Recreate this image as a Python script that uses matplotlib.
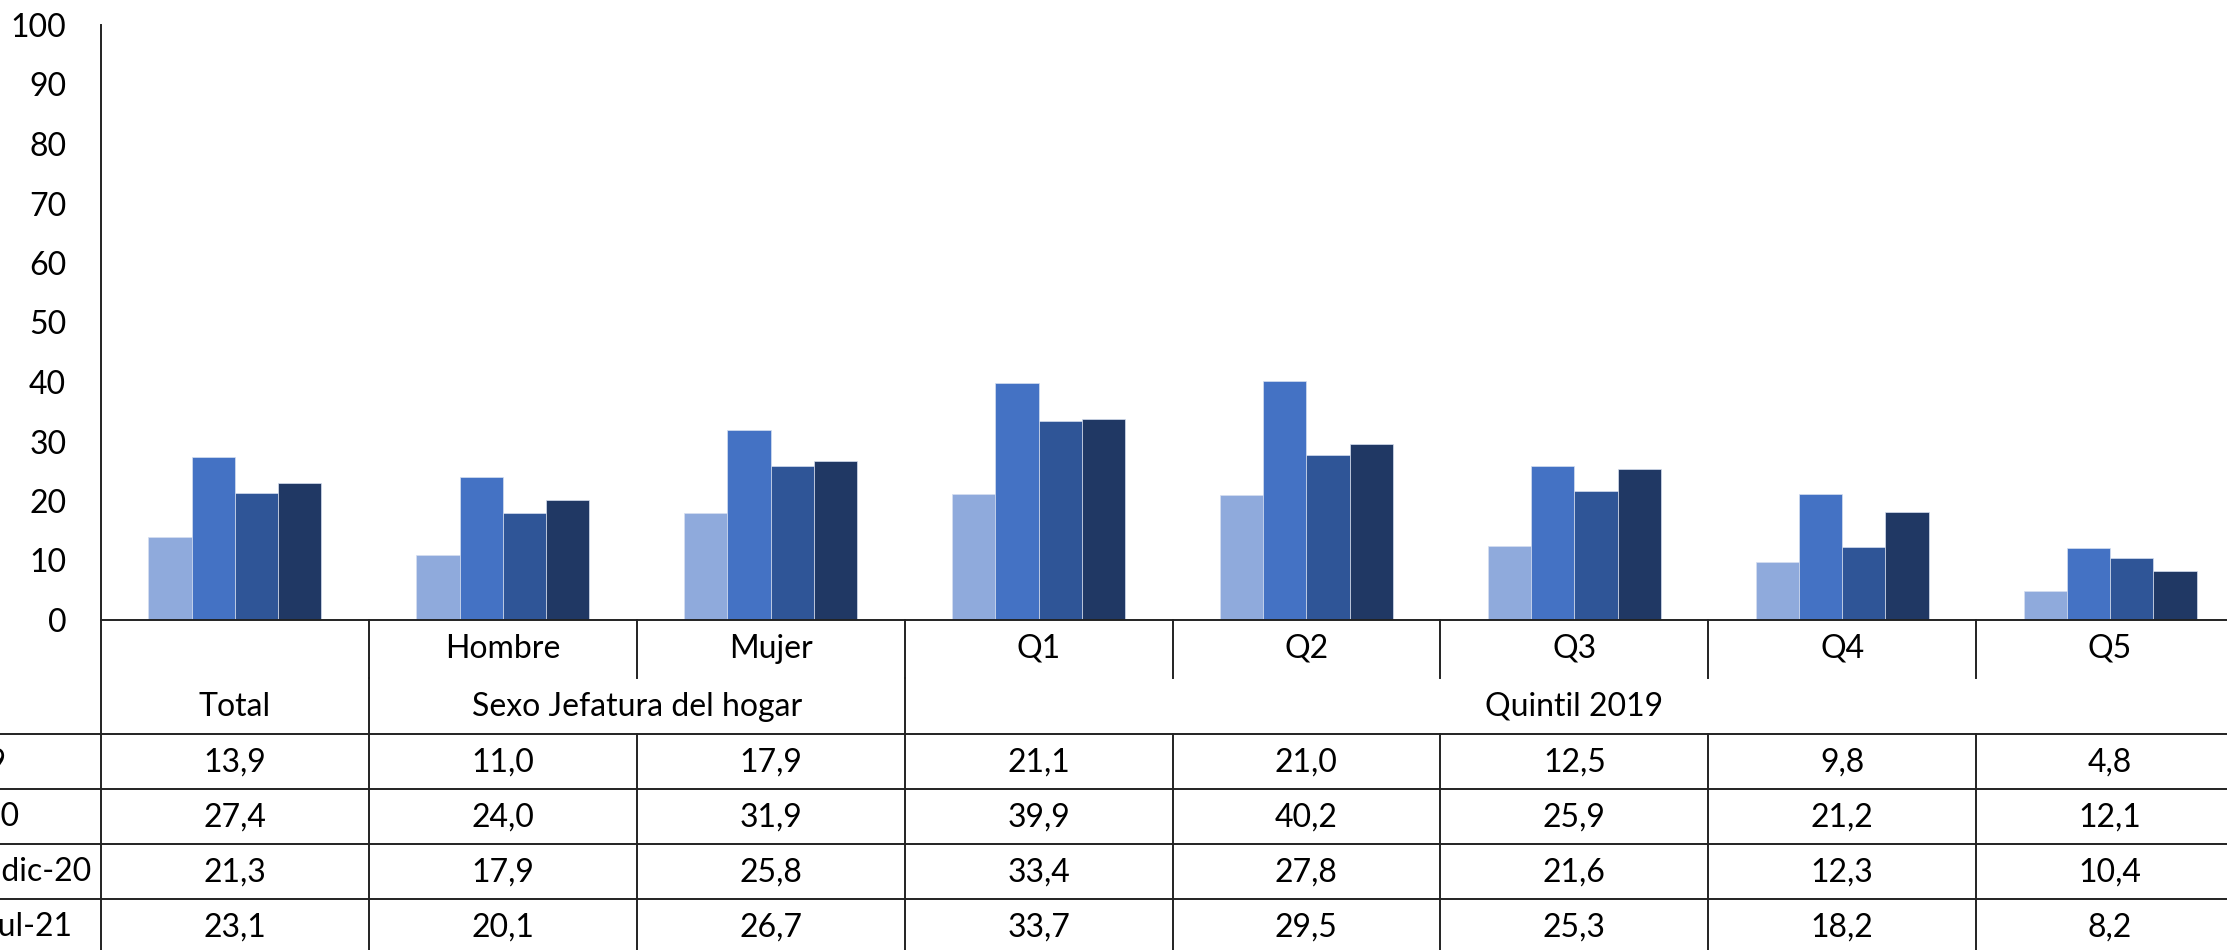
import numpy as np
import matplotlib
matplotlib.use('Agg')
import matplotlib.pyplot as plt

plt.rcParams['font.family'] = ['Lato', 'DejaVu Sans']

# data
categories = ['Total', 'Hombre', 'Mujer', 'Q1', 'Q2', 'Q3', 'Q4', 'Q5']
top_labels = ['', 'Hombre', 'Mujer', 'Q1', 'Q2', 'Q3', 'Q4', 'Q5']
groups = ['Total', 'Sexo Jefatura del hogar', 'Quintil 2019']
group_spans = [(0, 0), (1, 2), (3, 7)]
series_names = ['2019', 'jul-20', 'nov-dic-20', 'jul-21']
v_2019 = [13.9, 11.0, 17.9, 21.1, 21.0, 12.5, 9.8, 4.8]
v_jul20 = [27.4, 24.0, 31.9, 39.9, 40.2, 25.9, 21.2, 12.1]
v_dic20 = [21.3, 17.9, 25.8, 33.4, 27.8, 21.6, 12.3, 10.4]
v_jul21 = [23.1, 20.1, 26.7, 33.7, 29.5, 25.3, 18.2, 8.2]
series = [v_2019, v_jul20, v_dic20, v_jul21]
colors = ['#8FAADC', '#4472C4', '#2F5597', '#203864']

W, H = 2227, 950
fig = plt.figure(figsize=(W / 100, H / 100), dpi=100)

def fx(x):
    return x / W

def fy(y):
    return 1 - y / H

x_left, x_right = 101, 2244
y_top, y_zero, y_bot = 25, 620, 954
col_w = (x_right - x_left) / 8

ax = fig.add_axes([fx(x_left), fy(y_zero), fx(x_right) - fx(x_left), fy(y_top) - fy(y_zero)])
x = np.arange(len(categories))
bw = 0.1615
for i, (vals, c) in enumerate(zip(series, colors)):
    ax.bar(x + (i - 1.5) * bw, vals, bw, color=c, edgecolor='#D6DFF0', linewidth=0.5)

ax.set_xlim(-0.5, 7.5)
ax.set_ylim(0, 100)
ax.set_yticks(range(0, 101, 10))
ax.set_xticks([])
ax.tick_params(axis='y', length=0, pad=25, labelsize=23)
for s in ['top', 'right']:
    ax.spines[s].set_visible(False)
ax.spines['left'].set_linewidth(1.4)
ax.spines['bottom'].set_linewidth(1.4)
ax.spines['left'].set_color('#222222')
ax.spines['bottom'].set_color('#222222')

# data table below the chart
tb = fig.add_axes([fx(x_left), fy(y_bot), fx(x_right) - fx(x_left), fy(y_zero) - fy(y_bot)])
tb.set_xlim(-0.5, 7.5)
tb.set_ylim(y_bot, y_zero)
tb.axis('off')

lc, lw = '#222222', 1.4
row1_end, row2_end = 678, 734
data_rows = [734, 789, 844, 899, 954]
x_far = -0.5 - 150 / col_w

for yy in data_rows:
    tb.plot([x_far, 7.5], [yy, yy], color=lc, lw=lw, clip_on=False)
tb.plot([-0.5, -0.5], [y_zero, y_bot], color=lc, lw=lw, clip_on=False)
for k in range(8):
    xb = k + 0.5
    tb.plot([xb, xb], [y_zero, row1_end], color=lc, lw=lw, clip_on=False)
    tb.plot([xb, xb], [row2_end, y_bot], color=lc, lw=lw, clip_on=False)
for a, b in group_spans[:-1]:
    tb.plot([b + 0.5, b + 0.5], [row1_end, row2_end], color=lc, lw=lw, clip_on=False)

for k, t in enumerate(top_labels):
    tb.text(k, 649, t, ha='center', va='center', fontsize=23)
for g, (a, b) in zip(groups, group_spans):
    tb.text((a + b) / 2, 707, g, ha='center', va='center', fontsize=23)

# series names sit in a row-header column that is mostly off the left edge
label_ends = [7, 19, 92, 72]
for r, (name, vals) in enumerate(zip(series_names, series)):
    yc = (data_rows[r] + data_rows[r + 1]) / 2 + 1
    for k, v in enumerate(vals):
        tb.text(k, yc, f'{v:.1f}'.replace('.', ','), ha='center', va='center', fontsize=23)
    xe = -0.5 + (label_ends[r] - x_left) / col_w
    tb.text(xe, yc, name, ha='right', va='center', fontsize=23, clip_on=False)

fig.savefig('out.png', dpi=100)
